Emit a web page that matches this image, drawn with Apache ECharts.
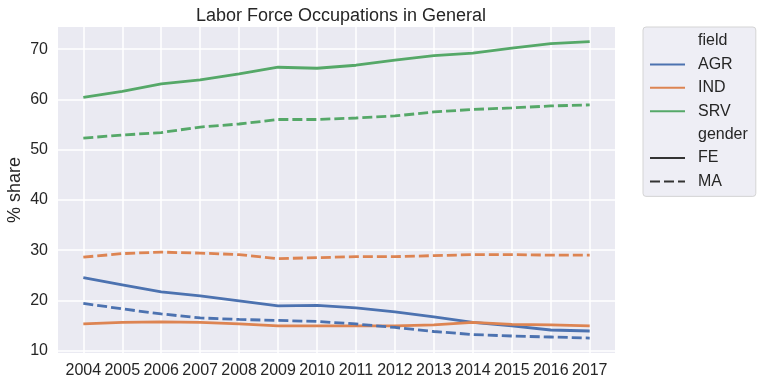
<!DOCTYPE html>
<html>
<head>
<meta charset="utf-8">
<script src="https://cdn.jsdelivr.net/npm/echarts@6/dist/echarts.min.js"></script>
<style>
html,body{margin:0;padding:0;background:#fff;}
#c{width:761px;height:385px;}
</style>
</head>
<body>
<div id="c"></div>
<script>
const years = [2004,2005,2006,2007,2008,2009,2010,2011,2012,2013,2014,2015,2016,2017];
const yTicks = [10,20,30,40,50,60,70];
const agrFE = [24.5,23.1,21.7,20.9,19.9,18.9,19.0,18.5,17.7,16.7,15.6,14.9,14.1,13.9];
const agrMA = [19.4,18.3,17.3,16.5,16.2,16.0,15.8,15.3,14.6,13.8,13.2,12.9,12.7,12.5];
const indFE = [15.3,15.6,15.7,15.6,15.3,14.9,14.9,14.9,14.9,15.1,15.6,15.2,15.1,14.9];
const indMA = [28.6,29.3,29.6,29.4,29.1,28.3,28.5,28.7,28.7,28.9,29.1,29.1,29.0,29.0];
const srvFE = [60.4,61.6,63.1,63.9,65.1,66.4,66.2,66.8,67.8,68.7,69.2,70.2,71.1,71.5];
const srvMA = [52.3,52.9,53.4,54.5,55.1,56.0,56.0,56.3,56.7,57.5,58.0,58.3,58.7,58.9];
const fields = ['AGR','IND','SRV'];
const genders = ['FE','MA'];

const colors = {AGR:'#4c72b0', IND:'#dd8452', SRV:'#55a868'};
const dash = [10,4];
const font = '"Liberation Sans", Arial, sans-serif';
const txt = '#262626';
const lw = 2.8;

function pairs(arr){ return years.map((y,i)=>[y,arr[i]]); }
function mk(name, arr, dashed){
  return {
    name: name, type:'line', data: pairs(arr), symbol:'none', silent:true,
    color: colors[name],
    lineStyle:{color:colors[name], width:lw, type: dashed ? dash : 'solid', cap:'butt'},
    z: 3
  };
}
const series = [
  mk('AGR', agrFE, false), mk('IND', indFE, false), mk('SRV', srvFE, false),
  mk('AGR', agrMA, true), mk('IND', indMA, true), mk('SRV', srvMA, true),
  {name:'field', type:'line', data:[], symbol:'none', color:'rgba(0,0,0,0)', lineStyle:{opacity:0}},
  {name:'gender', type:'line', data:[], symbol:'none', color:'rgba(0,0,0,0)', lineStyle:{opacity:0}},
  {name:'FE', type:'line', data:[], symbol:'none', color:'#333333', lineStyle:{color:'#333333', width:lw, type:'solid'}},
  {name:'MA', type:'line', data:[], symbol:'none', color:'#333333', lineStyle:{color:'#333333', width:lw, type:dash}}
];

const chart = echarts.init(document.getElementById('c'), null, {renderer:'canvas'});
chart.setOption({
  backgroundColor:'#ffffff',
  animation:false,
  title:{
    text:'Labor Force Occupations in General',
    left:336, top:2, textAlign:'center',
    textStyle:{fontFamily:font, fontSize:18, fontWeight:'normal', color:txt}
  },
  grid:{left:58, right:146, top:27, bottom:32, show:true, backgroundColor:'#eaeaf2', borderWidth:0,
    containLabel:false, outerBoundsMode:'none'},
  legend:{
    orient:'vertical', left:643, top:27,
    padding:[6,8,7,6],
    itemWidth:35, itemHeight:16, itemGap:7.4,
    backgroundColor:'rgba(234,234,242,0.8)', borderColor:'rgba(204,204,204,0.8)', borderWidth:1, borderRadius:3,
    textStyle:{fontFamily:font, fontSize:16, color:txt, padding:[0,0,0,8]},
    itemStyle:{opacity:0},
    selectedMode:false,
    data:[
      {name:'field', itemStyle:{opacity:0}, lineStyle:{opacity:0}},
      'AGR','IND','SRV',
      {name:'gender', itemStyle:{opacity:0}, lineStyle:{opacity:0}},
      'FE','MA'
    ]
  },
  xAxis:{
    type:'value', min:2003.35, max:2017.65,
    axisLine:{show:false},
    axisTick:{show:false, customValues: years},
    axisLabel:{fontFamily:font, fontSize:16, color:txt, margin:10, customValues: years,
      formatter:function(v){ return String(Math.round(v)); }},
    splitLine:{show:true, lineStyle:{color:'#ffffff', width:1.5}}
  },
  yAxis:{
    type:'value', min:9.52, max:74.41,
    name:'% share', nameLocation:'middle', nameGap:34, nameRotate:90, nameMoveOverlap:false,
    nameTextStyle:{fontFamily:font, fontSize:18, color:txt},
    axisLine:{show:false},
    axisTick:{show:false, customValues: yTicks},
    axisLabel:{fontFamily:font, fontSize:16, color:txt, margin:10, customValues: yTicks,
      formatter:function(v){ return String(Math.round(v)); }},
    splitLine:{show:true, lineStyle:{color:'#ffffff', width:1.5}}
  },
  series: series
});
</script>
</body>
</html>
